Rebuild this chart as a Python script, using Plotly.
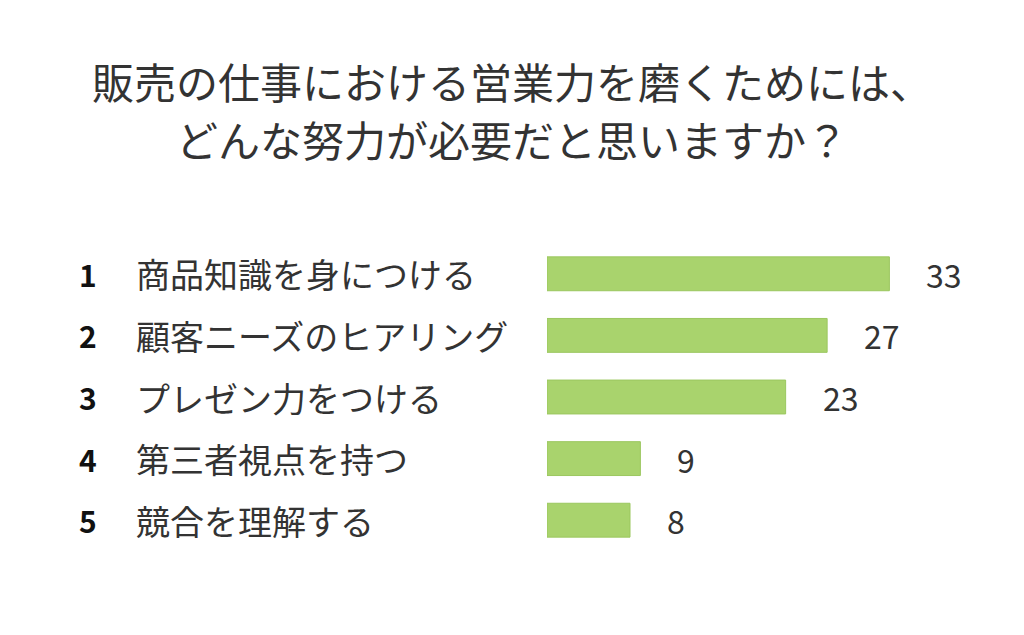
import plotly.graph_objects as go

ranks = ["1", "2", "3", "4", "5"]
categories = ["商品知識を身につける", "顧客ニーズのヒアリング", "プレゼン力をつける", "第三者視点を持つ", "競合を理解する"]
values = [33, 27, 23, 9, 8]
title_lines = ["販売の仕事における営業力を磨くためには、", "どんな努力が必要だと思いますか？"]

FONT = "Noto Sans CJK JP"
ypos = list(range(len(values)))

W, H = 1024, 635
ml, mr, mt, mb = 539, 70, 235, 92

fig = go.Figure()
fig.add_trace(go.Bar(
    x=values, y=ypos, orientation="h", width=0.55,
    marker=dict(color="#a9d36d", line=dict(color="#9bc75f", width=1)),
    hoverinfo="skip",
))

ann = []
for i, (r, c, v) in enumerate(zip(ranks, categories, values)):
    ann.append(dict(x=0, y=i, xref="x", yref="y", text=f"<b>{r}</b>", showarrow=False,
                    xanchor="center", xshift=-459, font=dict(family=FONT, size=30, color="#111111")))
    ann.append(dict(x=0, y=i, xref="x", yref="y", text=c, showarrow=False,
                    xanchor="left", xshift=-413, font=dict(family=FONT, size=34, color="#333333")))
    ann.append(dict(x=v, y=i, xref="x", yref="y", text=str(v), showarrow=False,
                    xanchor="left", xshift=35, font=dict(family=FONT, size=32, color="#333333")))

for j, t in enumerate(title_lines):
    py = 72 + 58 * j
    ann.append(dict(
        x=(504 - ml) / (W - ml - mr), y=(H - mb - py) / (H - mt - mb),
        xref="paper", yref="paper", text=t, showarrow=False,
        xanchor="center", yanchor="middle",
        font=dict(family=FONT, size=42, color="#333333")))

fig.update_layout(
    width=W, height=H,
    margin=dict(l=ml, r=mr, t=mt, b=mb),
    paper_bgcolor="white", plot_bgcolor="white",
    showlegend=False,
    xaxis=dict(range=[0, 40], visible=False),
    yaxis=dict(range=[4.5, -0.5], visible=False),
    annotations=ann,
)
fig.write_html("out.html")
